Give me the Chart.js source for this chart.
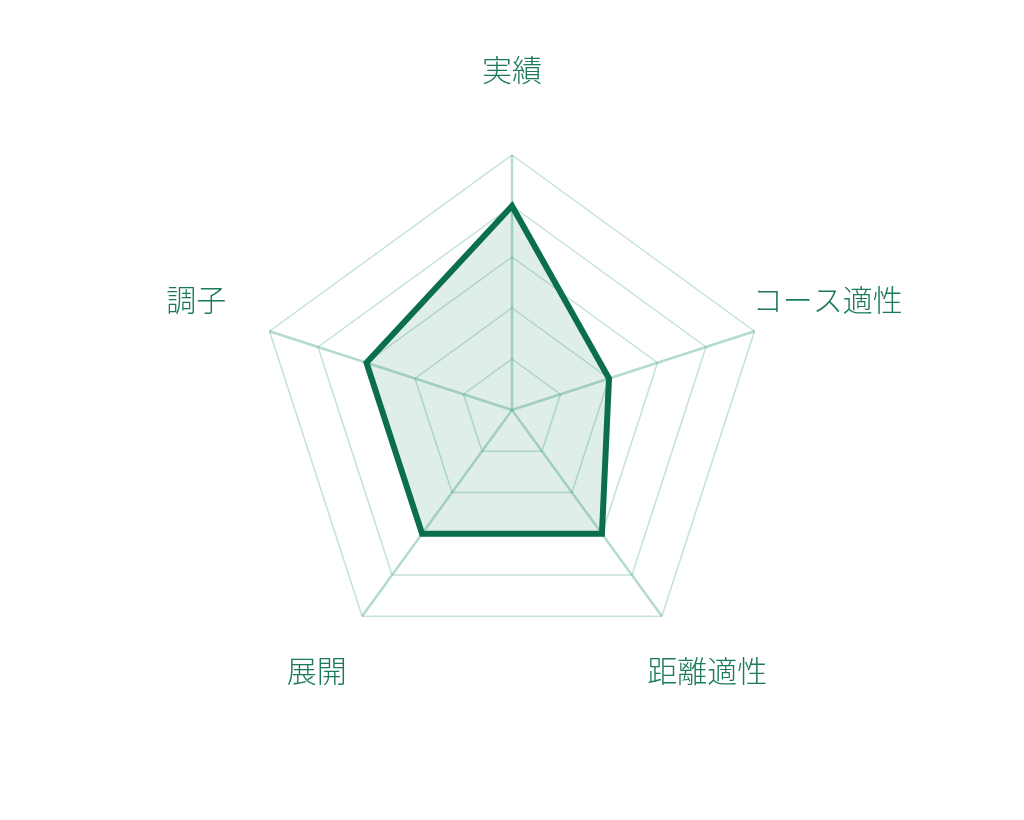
<!DOCTYPE html>
<html>
<head>
<meta charset="utf-8">
<script src="https://cdn.jsdelivr.net/npm/chart.js@4/dist/chart.umd.min.js"></script>
<style>
  html, body { margin: 0; padding: 0; background: #ffffff; }
  #wrap { width: 1024px; height: 820px; }
</style>
</head>
<body>
<div id="wrap"><canvas id="chartRadar" width="1024" height="820"></canvas></div>
<script>
// 項目と値
const labels = ['実績', 'コース適性', '距離適性', '展開', '調子'];
const values = [4, 2, 3, 3, 3];
const scaleMax = 5;
const scaleStep = 1;

// ラベルを軸の延長上に中央揃えで描く
const centeredLabels = {
    id: 'centeredLabels',
    afterDraw(chart) {
        const scale = chart.scales.r;
        const ctx = chart.ctx;
        ctx.save();
        ctx.font = '300 30px "Noto Sans CJK JP", "Noto Sans", sans-serif';
        ctx.fillStyle = '#1c7a56';
        ctx.textAlign = 'center';
        ctx.textBaseline = 'middle';
        labels.forEach((label, i) => {
            const p = scale.getPointPosition(i, scale.drawingArea + 77);
            ctx.fillText(label, p.x, p.y - 8);
        });
        ctx.restore();
    }
};

const ctxRadar = document.getElementById('chartRadar').getContext('2d');
new Chart(ctxRadar, {
    type: 'radar',
    data: {
        labels: labels,
        datasets: [
            {
                data: values,
                borderColor: '#0b6e4f',
                backgroundColor: 'rgba(40, 140, 100, 0.15)',
                borderWidth: 6,
                borderJoinStyle: 'miter',
                pointRadius: 0,
                pointHoverRadius: 0,
                fill: true,
            },
        ],
    },
    options: {
        responsive: false,
        animation: false,
        layout: {
            padding: { top: 155, bottom: 155, left: 0, right: 0 },
        },
        plugins: {
            legend: { display: false },
            tooltip: { enabled: false },
        },
        scales: {
            r: {
                min: 0,
                max: scaleMax,
                ticks: { display: false, stepSize: scaleStep },
                pointLabels: { display: false },
                grid: { color: 'rgba(60, 160, 120, 0.3)', lineWidth: 1.5 },
                angleLines: { color: 'rgba(60, 160, 120, 0.38)', lineWidth: 2.5 },
            },
        },
    },
    plugins: [centeredLabels],
});
</script>
</body>
</html>
